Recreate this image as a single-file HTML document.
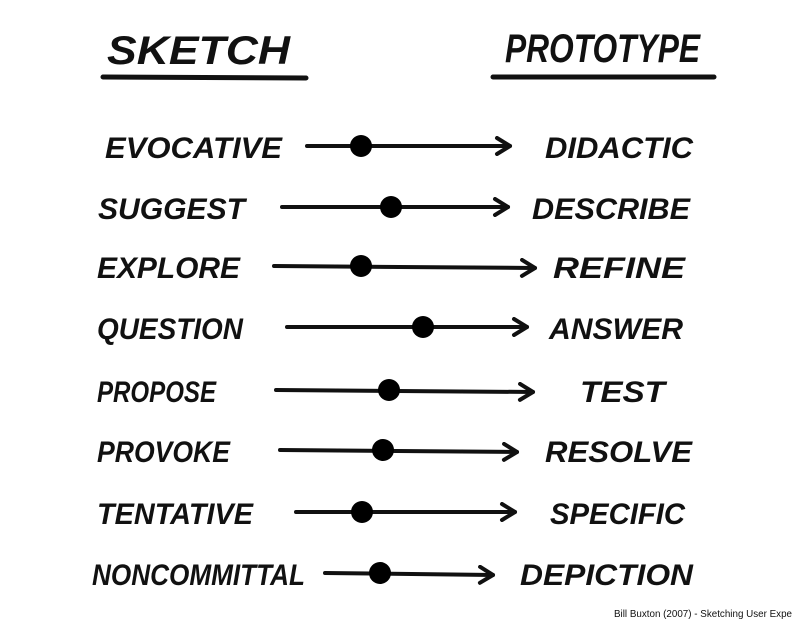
<!DOCTYPE html>
<html><head><style>
html,body{margin:0;padding:0;background:#fff;}
svg{display:block;}
text{font-family:"Liberation Sans",sans-serif;font-weight:bold;font-style:italic;fill:#111;}
</style></head><body>
<svg width="792" height="619" viewBox="0 0 792 619" xmlns="http://www.w3.org/2000/svg">
<defs>
<marker id="a" markerWidth="20" markerHeight="20" refX="16" refY="10" orient="auto" markerUnits="userSpaceOnUse">
<path d="M3,2 L16,10 L3,18" fill="none" stroke="#111" stroke-width="4" stroke-linecap="round" stroke-linejoin="round"/>
</marker>
</defs>
<text x="107" y="64" font-size="40" textLength="183" lengthAdjust="spacingAndGlyphs" font-style="normal">SKETCH</text>
<line x1="103" y1="77" x2="306" y2="78" stroke="#111" stroke-width="5" stroke-linecap="round"/>
<text x="505" y="62" font-size="40" textLength="195" lengthAdjust="spacingAndGlyphs">PROTOTYPE</text>
<line x1="493" y1="77" x2="714" y2="77" stroke="#111" stroke-width="5" stroke-linecap="round"/>
<g stroke="#111" stroke-width="4" stroke-linecap="round" marker-end="url(#a)">
<line x1="307" y1="146" x2="510" y2="146"/>
<line x1="282" y1="207" x2="508" y2="207"/>
<line x1="274" y1="266" x2="535" y2="268"/>
<line x1="287" y1="327" x2="527" y2="327"/>
<line x1="276" y1="390" x2="533" y2="392"/>
<line x1="280" y1="450" x2="517" y2="452"/>
<line x1="296" y1="512" x2="515" y2="512"/>
<line x1="325" y1="573" x2="493" y2="575"/>
</g>
<g fill="#000">
<circle cx="361" cy="146" r="11"/><circle cx="391" cy="207" r="11"/>
<circle cx="361" cy="266" r="11"/><circle cx="423" cy="327" r="11"/>
<circle cx="389" cy="390" r="11"/><circle cx="383" cy="450" r="11"/>
<circle cx="362" cy="512" r="11"/><circle cx="380" cy="573" r="11"/>
</g>
<g font-size="30">
<text x="105" y="158" textLength="177" lengthAdjust="spacingAndGlyphs">EVOCATIVE</text>
<text x="98" y="219" textLength="147" lengthAdjust="spacingAndGlyphs">SUGGEST</text>
<text x="97" y="278" textLength="143" lengthAdjust="spacingAndGlyphs">EXPLORE</text>
<text x="97" y="339" textLength="146" lengthAdjust="spacingAndGlyphs">QUESTION</text>
<text x="97" y="402" textLength="119" lengthAdjust="spacingAndGlyphs">PROPOSE</text>
<text x="97" y="462" textLength="133" lengthAdjust="spacingAndGlyphs">PROVOKE</text>
<text x="97" y="524" textLength="156" lengthAdjust="spacingAndGlyphs">TENTATIVE</text>
<text x="92" y="585" textLength="213" lengthAdjust="spacingAndGlyphs">NONCOMMITTAL</text>
<text x="545" y="158" textLength="148" lengthAdjust="spacingAndGlyphs">DIDACTIC</text>
<text x="532" y="219" textLength="158" lengthAdjust="spacingAndGlyphs">DESCRIBE</text>
<text x="553" y="278" textLength="132" lengthAdjust="spacingAndGlyphs">REFINE</text>
<text x="549" y="339" textLength="134" lengthAdjust="spacingAndGlyphs">ANSWER</text>
<text x="580" y="402" textLength="85" lengthAdjust="spacingAndGlyphs">TEST</text>
<text x="545" y="462" textLength="147" lengthAdjust="spacingAndGlyphs">RESOLVE</text>
<text x="550" y="524" textLength="135" lengthAdjust="spacingAndGlyphs">SPECIFIC</text>
<text x="520" y="585" textLength="173" lengthAdjust="spacingAndGlyphs">DEPICTION</text>
</g>
<text x="614" y="617" font-size="10" style="font-style:normal;font-weight:normal" textLength="178" lengthAdjust="spacingAndGlyphs">Bill Buxton (2007) - Sketching User Expe</text>
</svg>
</body></html>
